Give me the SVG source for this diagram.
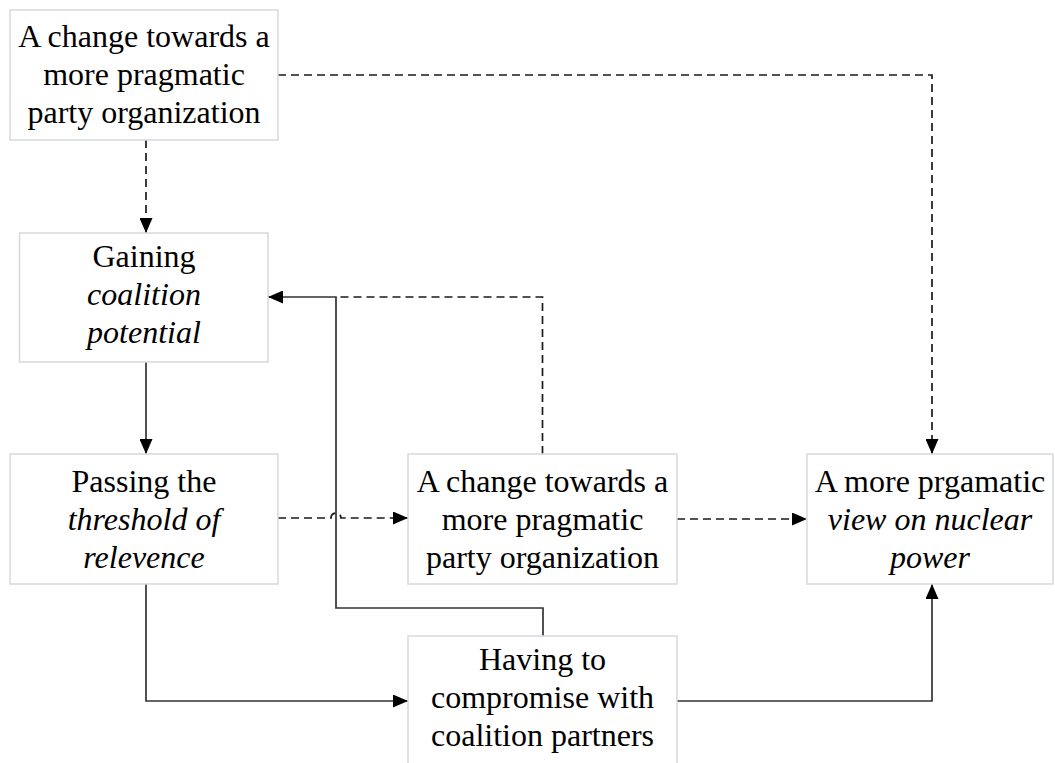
<svg xmlns="http://www.w3.org/2000/svg" width="1055" height="763" viewBox="0 0 1055 763">
<defs>
<marker id="ah" viewBox="0 0 15 13" refX="15" refY="6.5" markerWidth="15" markerHeight="13" markerUnits="userSpaceOnUse" orient="auto">
<path d="M0,0 L15,6.5 L0,13 Z" fill="#000"/>
</marker>
</defs>
<style>
.box{fill:#fff;stroke:#d6d9e0;stroke-width:1.5}
.t{font-family:"Liberation Serif","Times New Roman",serif;font-size:32px;fill:#000;text-anchor:middle}
.i{font-style:italic}
.d{fill:none;stroke:#1a1a1a;stroke-width:1.7;stroke-dasharray:8,5}
.s{fill:none;stroke:#333;stroke-width:1.7}
</style>
<rect width="1055" height="763" fill="#fff"/>
<g id="connectors">
<path class="d" d="M146,140 V233" marker-end="url(#ah)"/>
<path class="d" d="M278,75 H932 V454" marker-end="url(#ah)"/>
<path class="s" d="M146,362 V454" marker-end="url(#ah)"/>
<path class="d" d="M278,518 H331 A5,5 0 0 1 341,518 H408" marker-end="url(#ah)"/>
<path class="d" d="M542.5,454 V297 H336"/>
<path class="s" d="M543,636 V608 H336 V297 H268" marker-end="url(#ah)"/>
<path class="d" d="M677,519 H807" marker-end="url(#ah)"/>
<path class="s" d="M146,584 V701 H408" marker-end="url(#ah)"/>
<path class="s" d="M677,701 H932 V584" marker-end="url(#ah)"/>
</g>
<g id="n1">
<rect class="box" x="10" y="10" width="268" height="130"/>
<text class="t" x="144" y="47">A change towards a</text>
<text class="t" x="144" y="85">more pragmatic</text>
<text class="t" x="144" y="123">party organization</text>
</g>
<g id="n2">
<rect class="box" x="19.5" y="233" width="248.5" height="129"/>
<text class="t" x="144" y="267">Gaining</text>
<text class="t i" x="144" y="305">coalition</text>
<text class="t i" x="144" y="343">potential</text>
</g>
<g id="n3">
<rect class="box" x="10" y="454" width="268" height="130"/>
<text class="t" x="144" y="492">Passing the</text>
<text class="t i" x="144" y="530">threshold of</text>
<text class="t i" x="144" y="568">relevence</text>
</g>
<g id="n4">
<rect class="box" x="408" y="454" width="269" height="130"/>
<text class="t" x="542.5" y="492">A change towards a</text>
<text class="t" x="542.5" y="530">more pragmatic</text>
<text class="t" x="542.5" y="568">party organization</text>
</g>
<g id="n5">
<rect class="box" x="807" y="454" width="246" height="130"/>
<text class="t" x="930" y="492">A more prgamatic</text>
<text class="t i" x="930" y="530">view on nuclear</text>
<text class="t i" x="930" y="568">power</text>
</g>
<g id="n6">
<rect class="box" x="408" y="636" width="269" height="140"/>
<text class="t" x="542.5" y="670">Having to</text>
<text class="t" x="542.5" y="708">compromise with</text>
<text class="t" x="542.5" y="746">coalition partners</text>
</g>
</svg>
